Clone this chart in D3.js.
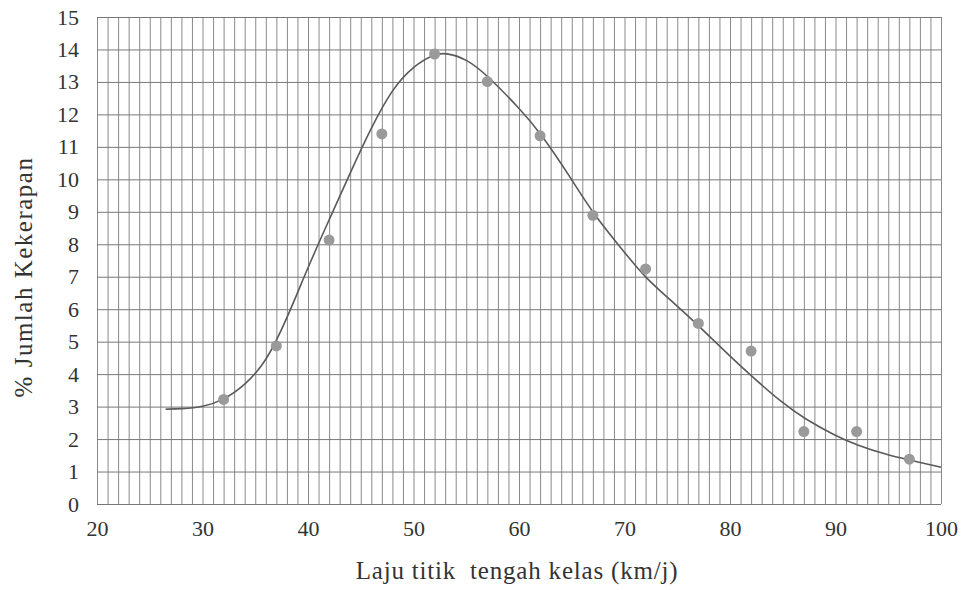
<!DOCTYPE html>
<html>
<head>
<meta charset="utf-8">
<script src="https://cdn.jsdelivr.net/npm/d3@7"></script>
<style>
  body { margin: 0; background: #fff; }
  .grid line { stroke: #8a8a8a; stroke-width: 1; }
  .grid .domain { display: none; }
</style>
</head>
<body>
<div id="chart"></div>
<script>
// observed points (class midpoint speed vs % frequency)
var speeds = [32, 37, 42, 47, 52, 57, 62, 67, 72, 77, 82, 87, 92, 97];
var percents = [3.22, 4.87, 8.13, 11.4, 13.86, 13.01, 11.34, 8.89, 7.24, 5.56, 4.71, 2.23, 2.23, 1.38];

// fitted curve
var curveX = [26.5, 28, 30, 32, 34, 36, 38, 40, 42, 44, 46, 48, 50, 52, 53, 55, 57, 60, 62, 65, 67, 70, 72, 75, 77, 80, 82, 85, 87, 90, 92, 95, 97, 100];
var curveY = [2.92, 2.93, 2.98, 3.2, 3.65, 4.35, 5.7, 7.3, 8.75, 10.2, 11.6, 12.8, 13.5, 13.86, 13.9, 13.72, 13.2, 12.2, 11.45, 10.0, 8.95, 7.75, 6.95, 6.1, 5.5, 4.55, 3.95, 3.1, 2.64, 2.1, 1.82, 1.5, 1.36, 1.13];

var xTicks = [20, 30, 40, 50, 60, 70, 80, 90, 100];
var yTicks = [0, 1, 2, 3, 4, 5, 6, 7, 8, 9, 10, 11, 12, 13, 14, 15];

var FONT = '"Liberation Serif", "Times New Roman", "DejaVu Serif", serif';

var W = 963, H = 590,
    margin = { top: 17, right: 22, bottom: 86, left: 97 },
    width = W - margin.left - margin.right,
    height = H - margin.top - margin.bottom;

var svg = d3.select('#chart').append('svg')
    .attr('width', W)
    .attr('height', H);

var g = svg.append('g').attr('transform', 'translate(' + margin.left + ',' + margin.top + ')');

var x = d3.scaleLinear().domain([20, 100]).range([0, width]),
    y = d3.scaleLinear().domain([0, 15]).range([height, 0]);

// fine grid: every 1 km/j, every 1 %
g.append('g')
    .attr('class', 'grid')
    .attr('transform', 'translate(0,' + height + ')')
    .call(d3.axisBottom(x).tickValues(d3.range(20, 101, 1)).tickSize(-height).tickFormat(''));

g.append('g')
    .attr('class', 'grid')
    .call(d3.axisLeft(y).tickValues(yTicks).tickSize(-width).tickFormat(''))
    .selectAll('line').style('stroke', '#787878');

// tick labels
var xAxis = g.append('g')
    .attr('transform', 'translate(0,' + height + ')')
    .attr('font-family', FONT)
    .call(d3.axisBottom(x).tickValues(xTicks).tickSize(0).tickPadding(16));
xAxis.select('.domain').remove();
xAxis.selectAll('text')
    .style('font-family', FONT)
    .style('font-size', '22px')
    .attr('fill', '#333');

var yAxis = g.append('g')
    .attr('font-family', FONT)
    .call(d3.axisLeft(y).tickValues(yTicks).tickSize(0).tickPadding(18));
yAxis.select('.domain').remove();
yAxis.selectAll('text')
    .style('font-family', FONT)
    .style('font-size', '22px')
    .attr('fill', '#333');

// axis titles
svg.append('text')
    .attr('x', 517)
    .attr('y', 579)
    .attr('text-anchor', 'middle')
    .attr('fill', '#333')
    .style('font-family', FONT)
    .style('font-size', '25px')
    .style('letter-spacing', '0.8px')
    .text('Laju titik\u00a0 tengah kelas (km/j)');

svg.append('text')
    .attr('transform', 'translate(32,277) rotate(-90)')
    .attr('text-anchor', 'middle')
    .attr('fill', '#333')
    .style('font-family', FONT)
    .style('font-size', '25px')
    .style('letter-spacing', '1.5px')
    .text('% Jumlah Kekerapan');

// fitted curve
var line = d3.line()
    .x(function (d, i) { return x(curveX[i]); })
    .y(function (d, i) { return y(curveY[i]); })
    .curve(d3.curveBasis);

g.append('path')
    .datum(curveX)
    .attr('fill', 'none')
    .attr('stroke', '#5a5a5a')
    .attr('stroke-width', 1.6)
    .attr('d', line);

// points
g.selectAll('.dot')
    .data(speeds)
    .enter().append('circle')
    .attr('class', 'dot')
    .attr('cx', function (d) { return x(d); })
    .attr('cy', function (d, i) { return y(percents[i]); })
    .attr('r', 5.5)
    .attr('fill', '#9a9a9a');
</script>
</body>
</html>
